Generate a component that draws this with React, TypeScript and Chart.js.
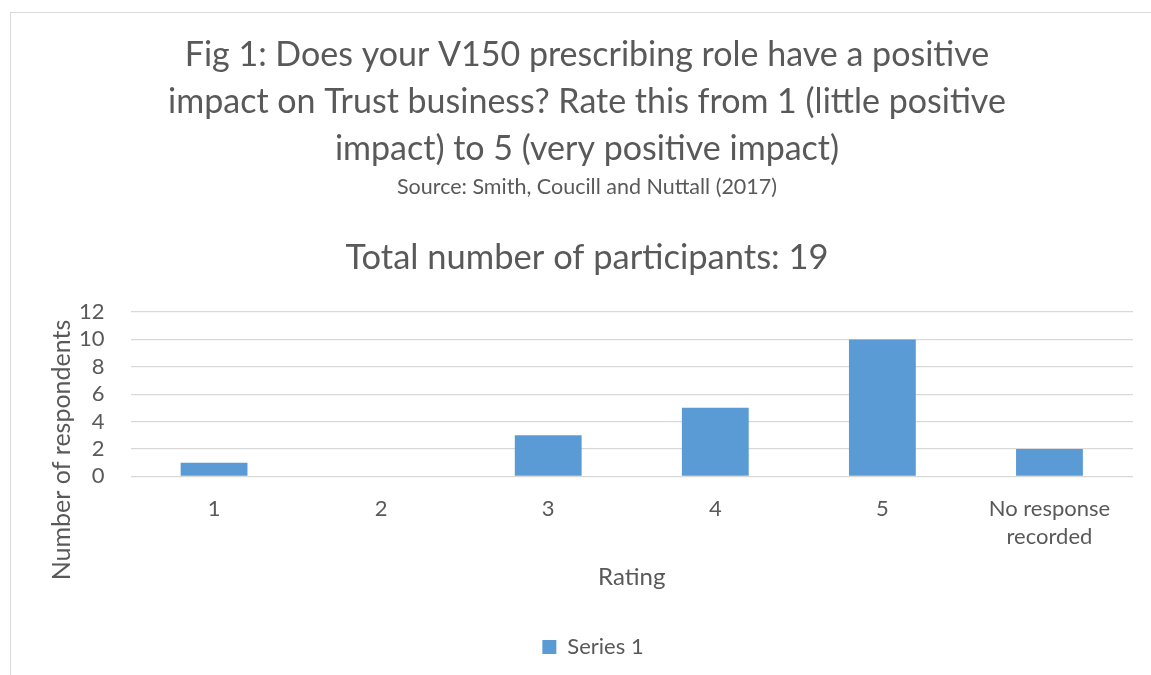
import React, { useEffect, useRef } from "react";
import { Chart, registerables } from "chart.js";

Chart.register(...registerables);

const categories: (string | string[])[] = ["1", "2", "3", "4", "5", ["No response", "recorded"]];
const seriesValues: number[] = [1, 0, 3, 5, 10, 2];
const seriesName = "Series 1";
const titleLines: string[] = [
  "Fig 1: Does your V150 prescribing role have a positive",
  "impact on Trust business? Rate this from 1 (little positive",
  "impact) to 5 (very positive impact)",
];
const sourceText = "Source: Smith, Coucill and Nuttall (2017)";
const participantsText = "Total number of participants: 19";
const yAxisTitle = "Number of respondents";
const xAxisTitle = "Rating";

const FONT = "Lato";
const TEXT = "#595959";

const headerPlugin = {
  id: "headerPlugin",
  afterDraw(chart: any) {
    const ctx = chart.ctx;
    const cx = chart.width / 2;
    ctx.save();
    ctx.fillStyle = TEXT;
    ctx.textAlign = "center";
    ctx.textBaseline = "middle";
    ctx.font = `34px ${FONT}`;
    const ys = [42, 89, 136];
    titleLines.forEach((l, i) => ctx.fillText(l, cx, ys[i]));
    ctx.font = `21.5px ${FONT}`;
    ctx.fillText(sourceText, cx, 174);
    ctx.font = `34.5px ${FONT}`;
    ctx.fillText(participantsText, cx, 245);
    ctx.translate(51, 437);
    ctx.rotate(-Math.PI / 2);
    ctx.font = `25px ${FONT}`;
    ctx.fillText(yAxisTitle, 0, 0);
    ctx.restore();
  },
};

export default function App() {
  const ref = useRef<HTMLCanvasElement>(null);
  useEffect(() => {
    if (!ref.current) return;
    const chart = new Chart(ref.current, {
      type: "bar",
      data: {
        labels: categories,
        datasets: [
          {
            label: seriesName,
            data: seriesValues,
            backgroundColor: "#5B9BD5",
            borderWidth: 0,
            categoryPercentage: 1,
            barPercentage: 0.4,
          },
        ],
      },
      options: {
        responsive: false,
        animation: false,
        layout: { padding: { top: 299, left: 42, right: 30, bottom: 7 } },
        plugins: {
          title: { display: false },
          tooltip: { enabled: false },
          legend: {
            position: "bottom",
            labels: {
              color: TEXT,
              font: { family: FONT, size: 22 },
              boxWidth: 14,
              boxHeight: 14,
              padding: 10,
            },
          },
        },
        scales: {
          x: {
            grid: { display: false, drawTicks: false },
            border: { display: false },
            ticks: { color: TEXT, font: { family: FONT, size: 22, lineHeight: 1.27 }, padding: 19, maxRotation: 0, autoSkip: false },
            title: {
              display: true,
              text: xAxisTitle,
              color: TEXT,
              font: { family: FONT, size: 24 },
              padding: { top: -7, bottom: 34 },
            },
          },
          y: {
            min: 0,
            max: 12,
            ticks: { stepSize: 2, color: TEXT, font: { family: FONT, size: 22, lineHeight: 1 }, padding: 26, autoSkip: false },
            grid: { color: "#d9d9d9", lineWidth: 1.3, drawTicks: false },
            border: { display: false },
          },
        },
      },
      plugins: [headerPlugin],
    });
    return () => chart.destroy();
  }, []);
  return (
    <div style={{ position: "fixed", left: 0, top: 0, width: 1151, height: 675, overflow: "hidden", background: "#fff" }}>
      <div style={{ position: "absolute", left: 10, top: 12, width: 1160, height: 680, border: "1px solid #d9d9d9" }}>
        <canvas ref={ref} width={1152} height={662} style={{ display: "block" }} />
      </div>
    </div>
  );
}
